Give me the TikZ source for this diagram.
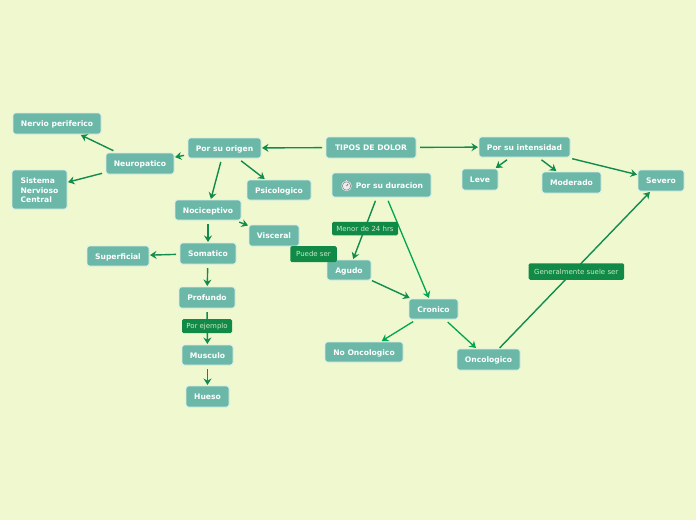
\documentclass[tikz,border=0pt]{standalone}
\usepackage{fontspec}
\setmainfont{DejaVu Sans}
\usetikzlibrary{arrows.meta}
\definecolor{bgc}{HTML}{EFF8CE}
\definecolor{boxc}{HTML}{6CB8A8}
\definecolor{tagc}{HTML}{118A47}
\definecolor{tagt}{HTML}{C9E8C6}
\definecolor{linec}{HTML}{118C4E}
\definecolor{lineb}{HTML}{00A651}
\tikzset{
 boxbase/.style={draw=white!75!boxc,line width=0.9pt,fill=boxc,rounded corners=2.5pt,text=white,inner sep=0pt,outer sep=1pt,font=\bfseries\fontsize{7.6}{9.5}\selectfont},
 box/.style={boxbase,text height=7.8pt,text depth=1.4pt},
 tag/.style={fill=tagc,rounded corners=1.5pt,text=tagt,inner sep=0pt,text height=6.6pt,text depth=1.4pt,font=\fontsize{7}{8}\selectfont},
 conn/.style={draw=linec,line width=1.4pt,shorten <=3pt,-{Stealth[length=6.5pt,width=8pt,inset=2.2pt]}},
 connb/.style={conn,draw=lineb,line width=1.3pt},
}
\begin{document}
\begin{tikzpicture}[x=1pt,y=-1pt]
\useasboundingbox[fill=bgc] (0,0) rectangle (696,520);
\node[box,minimum width=88pt,minimum height=21pt] (nervio) at (57,123.5) {Nervio periferico};
\node[boxbase,minimum width=55pt,minimum height=39pt,align=left] (sistema) at (39.5,189.5) {\rule{0pt}{7.8pt}Sistema\\Nervioso\\Central};
\node[box,minimum width=68pt,minimum height=21pt] (neuro) at (140,163.5) {Neuropatico};
\node[box,minimum width=73pt,minimum height=20pt] (origen) at (224.5,148) {Por su origen};
\node[box,minimum width=64pt,minimum height=20pt] (psico) at (279,190) {Psicologico};
\node[box,minimum width=66pt,minimum height=20pt] (noci) at (208,210) {Nociceptivo};
\node[box,minimum width=50pt,minimum height=21pt] (visc) at (274,235.5) {Visceral};
\node[box,minimum width=56pt,minimum height=21pt] (soma) at (208,253.5) {Somatico};
\node[box,minimum width=62pt,minimum height=20pt] (superf) at (118,256) {Superficial};
\node[box,minimum width=56pt,minimum height=21pt] (prof) at (207,297.5) {Profundo};
\node[box,minimum width=51pt,minimum height=20pt] (musc) at (207.5,355) {Musculo};
\node[box,minimum width=43pt,minimum height=21pt] (hueso) at (207.5,396.5) {Hueso};
\node[box,minimum width=90pt,minimum height=21pt] (tipos) at (371,147.5) {TIPOS DE DOLOR};
\node[box,minimum width=99pt,minimum height=24pt] (dur) at (381.5,185) {\hspace*{16pt}Por su duracion};
\node[box,minimum width=91pt,minimum height=20pt] (inten) at (524.5,147) {Por su intensidad};
\node[box,minimum width=36pt,minimum height=21pt] (leve) at (480,179.5) {Leve};
\node[box,minimum width=59pt,minimum height=21pt] (mod) at (571.5,182.5) {Moderado};
\node[box,minimum width=46pt,minimum height=21pt] (sev) at (661,180.5) {Severo};
\node[box,minimum width=44pt,minimum height=20pt] (agudo) at (349,270) {Agudo};
\node[box,minimum width=49pt,minimum height=20pt] (cron) at (433.5,309) {Cronico};
\node[box,minimum width=78pt,minimum height=20pt] (nonc) at (364,352) {No Oncologico};
\node[box,minimum width=63pt,minimum height=21pt] (onc) at (488.5,359.5) {Oncologico};
\draw[conn] (tipos) -- (origen);
\draw[conn] (tipos) -- (inten);
\draw[conn] (origen) -- (neuro);
\draw[conn] (neuro) -- (nervio);
\draw[conn] (neuro) -- (sistema);
\draw[conn] (origen) -- (psico);
\draw[conn] (origen) -- (noci);
\draw[conn] (noci) -- (visc);
\draw[conn] (noci) -- (soma);
\draw[conn] (soma) -- (superf);
\draw[conn] (soma) -- (prof);
\draw[conn] (prof) -- (musc);
\draw[conn] (musc) -- (hueso);
\draw[conn] (inten) -- (leve);
\draw[conn] (inten) -- (mod);
\draw[conn] (inten) -- (sev);
\draw[conn] (dur) -- (agudo);
\draw[connb] (dur) -- (cron);
\draw[conn,shorten <=0pt] (agudo) -- (cron);
\draw[connb] (cron) -- (nonc);
\draw[connb] (cron) -- (onc);
\draw[conn,shorten <=0pt] (onc) -- (sev);
\node[tag,minimum width=66pt,minimum height=13.5pt] (lmenor) at (365,228.5) {Menor de 24 hrs};
\node[tag,minimum width=46.5pt,minimum height=16pt] (lpuede) at (313.5,254) {Puede ser};
\node[tag,minimum width=50pt,minimum height=14pt] (lpor) at (207,326) {Por ejemplo};
\node[tag,minimum width=95.5pt,minimum height=16.5pt] (lgen) at (576.3,271.5) {Generalmente suele ser};
\fill[white!85!gray] (346.5,186) circle (5.2pt);
\fill[white!85!gray] (345.6,179.5) rectangle (347.4,181);
\draw[gray,line width=0.5pt] (346.5,186) circle (4.2pt);
\draw[gray!70!black,line width=0.6pt] (346.5,186) -- (348,184.2);
\end{tikzpicture}
\end{document}
